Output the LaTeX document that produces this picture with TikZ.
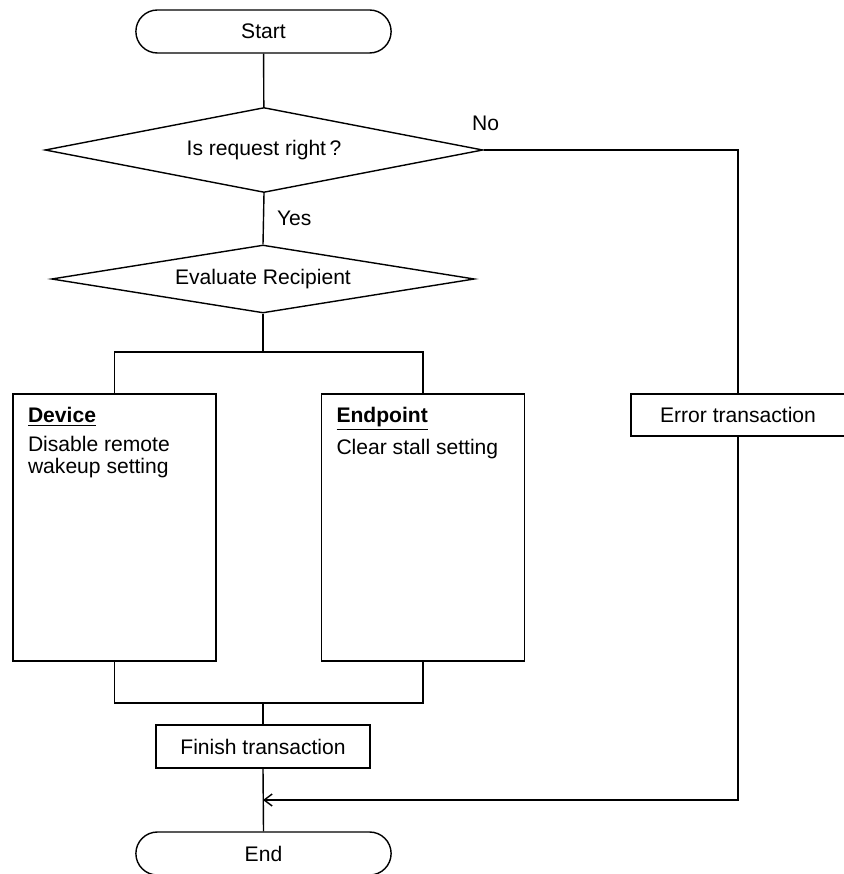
\documentclass[tikz,border=0pt]{standalone}
\usepackage{fontspec}
\setmainfont{Liberation Sans}
\usetikzlibrary{arrows.meta,positioning,shapes.geometric,shapes.misc}
\tikzset{>=Stealth}

\begin{document}
\begin{tikzpicture}[
    x=0.02cm, y=-0.02cm,
    font=\fontsize{12}{12.5}\selectfont,
    line width=0.8pt,
    term/.style={draw, rounded rectangle, minimum width=5.34cm, minimum height=0.86cm},
    cond/.style={draw, diamond, aspect=5, inner sep=0pt},
    box/.style={draw, rectangle, minimum width=4.28cm, minimum height=0.86cm},
    tall/.style={draw, rectangle, minimum width=4.06cm, minimum height=5.34cm},
    note/.style={anchor=north west, align=left, inner sep=0pt},
    >={Straight Barb[length=1.6mm,width=2.4mm]}
  ]
    \useasboundingbox (0,0) rectangle (843,874);
    % shapes
    \node[term] (start) at (263.5,31.5) {Start};
    \node[cond, minimum width=8.76cm, minimum height=1.7cm] (req) at (264,150) {Is request right\,?};
    \node[cond, minimum width=8.46cm, minimum height=1.36cm] (recip) at (263,279) {Evaluate Recipient};
    \node[tall] (device) at (114.5,527.5) {};
    \node[tall] (endpoint) at (423,527.5) {};
    \node[note] (devtxt) at ([xshift=0.3cm,yshift=-0.26cm]device.north west)
      {\underline{\textbf{Device}}\\[4pt]Disable remote\\wakeup setting};
    \node[note] (eptxt) at ([xshift=0.3cm,yshift=-0.26cm]endpoint.north west)
      {\underline{\textbf{Endpoint}}\\[4pt]Clear stall setting};
    \node[box, minimum width=4.28cm, minimum height=0.84cm] (error) at (738,415) {Error transaction};
    \node[box] (finish) at (263,746.5) {Finish transaction};
    \node[term] (end) at (263.5,853.5) {End};
    \coordinate (fork) at (263,352);
    \coordinate (join) at (263,703);
    \coordinate (merge) at (263,800);
    % connectors
    \draw (start) -- (req);
    \draw (req.south) -- node[right, xshift=4pt]{Yes} (recip.north);
    \draw (req.east) -| node[pos=0, anchor=west, xshift=-0.36cm, yshift=0.54cm]{No} (error.north);
    \draw (recip.south) -- (fork);
    \draw (device.north) |- (fork) -| (endpoint.north);
    \draw (device.south) |- (join) -| (endpoint.south);
    \draw (join) -- (finish.north);
    \draw (finish.south) -- (end.north);
    \draw[->] (error.south) |- (merge);
  \end{tikzpicture}
\end{document}
